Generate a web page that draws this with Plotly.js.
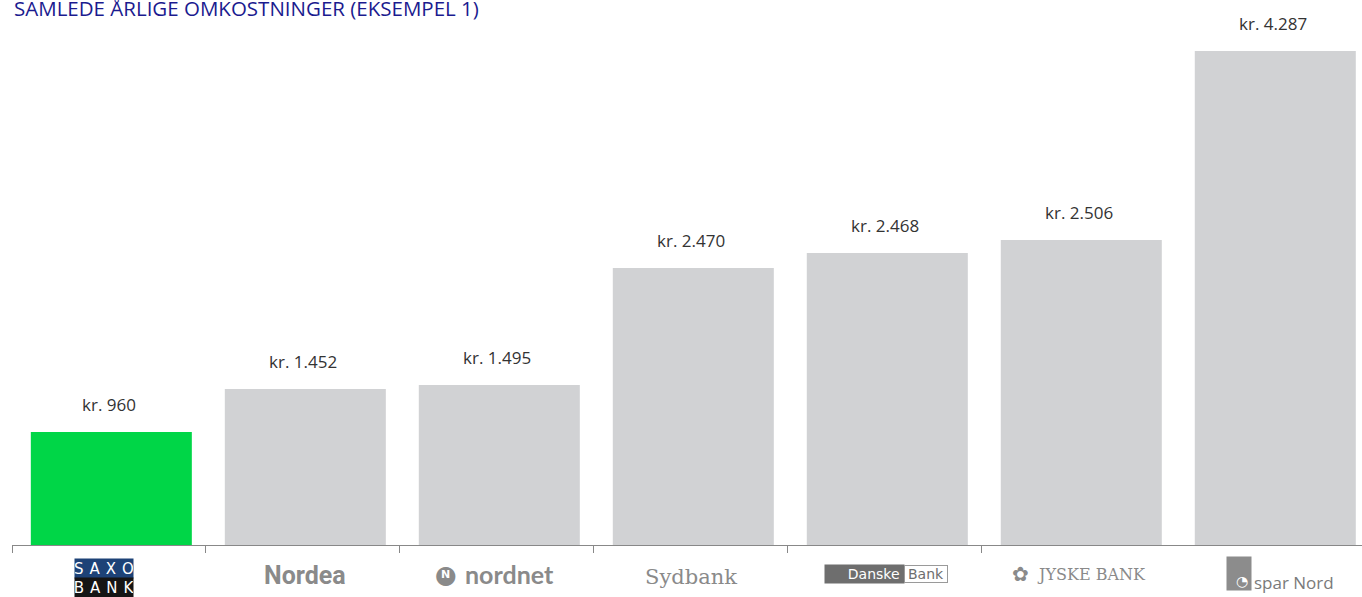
<!DOCTYPE html>
<html><head><meta charset="utf-8">
<script src="https://cdn.plot.ly/plotly-3.0.1.min.js"></script>
<style>html,body{margin:0;padding:0;background:#fff;}#chart{width:1362px;height:597px;}</style>
</head><body><div id="chart"></div>
<script>
// Data
const banks = ["Saxo Bank", "Nordea", "Nordnet", "Sydbank", "Danske Bank", "Jyske Bank", "Spar Nord"];
// bar heights as drawn (kr scale)
const barValues = [981, 1354, 1388, 2404, 2534, 2647, 4287];
// printed labels
const labelValues = ["kr. 960", "kr. 1.452", "kr. 1.495", "kr. 2.470", "kr. 2.468", "kr. 2.506", "kr. 4.287"];
const barColors = ["#00d647", "#d1d2d4", "#d1d2d4", "#d1d2d4", "#d1d2d4", "#d1d2d4", "#d1d2d4"];
const titleText = "SAMLEDE ÅRLIGE OMKOSTNINGER (EKSEMPEL 1)";

const xs = banks.map((_, i) => i);
const boundaries = banks.slice(0, -1).map((_, i) => i - 0.5);

const annotations = [];
// title
annotations.push({xref:'paper', yref:'paper', x:0, y:1, xanchor:'left', yanchor:'middle', yshift:12,
  text:titleText, showarrow:false, font:{family:'Open Sans', size:20.5, color:'#1b1b8f'}});
// value labels
barValues.forEach((v, i) => {
  annotations.push({x:i, y:v, xref:'x', yref:'y', xanchor:'center', yanchor:'bottom', yshift:14,
    text:labelValues[i], showarrow:false, font:{family:'Open Sans', size:17, color:'#333333'}});
});
// logo-like tick labels
function lab(i, text, font, extra) {
  annotations.push(Object.assign({x:i, y:0, xref:'x', yref:'paper', xanchor:'center', yanchor:'middle',
    showarrow:false, text:text, font:font}, extra||{}));
}
const th = "\u2009";
// Saxo Bank
lab(0, ["S","A","X","O"].join(th+th), {family:'DejaVu Sans', size:15, color:'#ffffff'},
  {yshift:-23, xshift:-5, width:58, height:19, borderpad:0, bgcolor:'#1d4277'});
lab(0, ["B","A","N","K"].join(th+th), {family:'DejaVu Sans', size:15, color:'#ffffff'},
  {yshift:-43, xshift:-5, width:58, height:20, borderpad:0, bgcolor:'#151515'});
// Nordea
lab(1, "<b>Nordea</b>", {family:'Roboto', size:25, color:'#8a8a8a'}, {yshift:-30, xshift:2});
// nordnet
lab(2, "<b>nordnet</b>", {family:'Lato', size:25, color:'#8a8a8a'}, {yshift:-29, xshift:13});
lab(2, "●", {family:'DejaVu Sans', size:25, color:'#8a8a8a'}, {yshift:-29, xshift:-51});
lab(2, "<b>N</b>", {family:'DejaVu Sans', size:11, color:'#ffffff'}, {yshift:-29, xshift:-51});
// Sydbank
lab(3, "Sydbank", {family:'DejaVu Serif', size:21, color:'#8a8a8a'}, {yshift:-32});
// Danske Bank
lab(4, "Danske ", {family:'DejaVu Sans', size:14, color:'#ffffff'},
  {yshift:-29, xshift:-20, width:79, height:18, borderpad:0, bgcolor:'#6e6e6e', align:'right'});
lab(4, "Bank", {family:'DejaVu Sans', size:14, color:'#6e6e6e'},
  {yshift:-29, xshift:41, width:42, height:16, borderpad:0, bgcolor:'#ffffff', bordercolor:'#9a9a9a', borderwidth:1});
// Jyske Bank
lab(5, "JYSKE BANK", {family:'DejaVu Serif', size:16, color:'#8a8a8a'}, {yshift:-29, xshift:13});
lab(5, "✿", {family:'DejaVu Sans', size:20, color:'#8a8a8a'}, {yshift:-29, xshift:-58});
// Spar Nord
lab(6, "spar Nord", {family:'Open Sans', size:17, color:'#7a7a7a'}, {yshift:-37, xshift:21});
lab(6, "", {family:'DejaVu Sans', size:12, color:'#7a7a7a'},
  {yshift:-28, xshift:-34, width:24, height:33, borderpad:0, bgcolor:'#8c8c8c'});
lab(6, "◔", {family:'DejaVu Sans', size:14, color:'#ffffff'}, {yshift:-36, xshift:-31});

const trace = {
  type:'bar', x:xs, y:barValues, marker:{color:barColors}, width:0.83, offset:-0.403,
  hoverinfo:'skip', showlegend:false
};

const layout = {
  width:1362, height:597,
  margin:{l:12, r:0, t:20, b:52, pad:0},
  paper_bgcolor:'#ffffff', plot_bgcolor:'#ffffff',
  xaxis:{type:'linear', range:[-0.5, 6.459], tickvals:boundaries, ticktext:boundaries.map(()=>''),
    ticks:'outside', ticklen:7, tickwidth:1, tickcolor:'#888888',
    showline:true, linecolor:'#888888', linewidth:1, showgrid:false, zeroline:false, fixedrange:true},
  yaxis:{range:[0, 4556], visible:false, showgrid:false, zeroline:false, fixedrange:true},
  annotations:annotations
};
Plotly.newPlot('chart', [trace], layout, {displayModeBar:false, staticPlot:true});
</script></body></html>
